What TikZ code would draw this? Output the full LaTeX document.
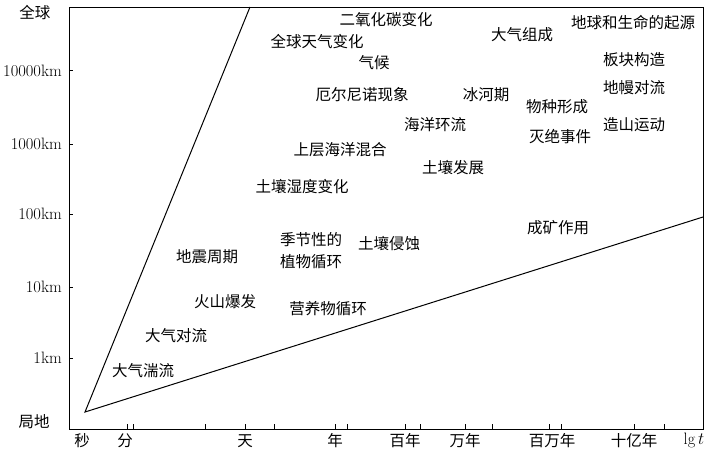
\documentclass[tikz,border=0pt]{standalone}
\usepackage{fontspec}
\newfontfamily\cjk{Noto Sans CJK SC}
\begin{document}
\begin{tikzpicture}[x=1pt,y=-1pt,
  lab/.style={font=\cjk\fontsize{15.5}{16}\selectfont, inner sep=0pt},
  axl/.style={font=\fontsize{16.5}{17}\selectfont, inner sep=0pt, anchor=east},
  frame/.style={line width=0.8pt},
  tick/.style={line width=0.7pt},
  bound/.style={line width=1pt}]
\useasboundingbox (0,0) rectangle (706,451);
% frame
\coordinate (tl) at (69,7);
\coordinate (tr) at (703,7);
\coordinate (bl) at (69,429);
\coordinate (br) at (703,429);
\draw[frame] (tl) -- (bl) -- (br) -- (tr) -- (tl);
% y ticks
\foreach \y/\t/\n in {70.5/10000km/y4,144/1000km/y3,214/100km/y2,287/10km/y1,358/1km/y0}{
  \coordinate (\n a) at (69,\y);
  \coordinate (\n b) at (73,\y);
  \draw[tick] (\n a) -- (\n b);
  \node[axl] (\n) at (62,\y) {\t};
}
\node[lab] (glob) at (35,13) {全球};
\node[lab] (loc) at (34,422) {局地};
% x ticks
\foreach \x [count=\i] in {127,133,205,245,274,335,347,405,420,465,492,549,561,634,664}{
  \coordinate (xa\i) at (\x,429);
  \coordinate (xb\i) at (\x,424);
  \draw[tick] (xa\i) -- (xb\i);
}
\node[lab] (s) at (82,441) {秒};
\node[lab] (mi) at (125,441) {分};
\node[lab] (d) at (245,441) {天};
\node[lab] (yr) at (335,441) {年};
\node[lab] (c) at (405,441) {百年};
\node[lab] (ty) at (465,441) {万年};
\node[lab] (my) at (552,441) {百万年};
\node[lab] (gy) at (634,441) {十亿年};
\node[font=\fontsize{16.5}{17}\selectfont, inner sep=0pt] (lgt) at (694,440) {lg\,$t$};
% boundary lines
\coordinate (o) at (85,412);
\coordinate (a) at (250,7);
\coordinate (b) at (703,217);
\draw[bound] (a) -- (o) -- (b);
% phenomena
\node[lab] (n1) at (386,20) {二氧化碳变化};
\node[lab] (n2) at (317,42) {全球天气变化};
\node[lab] (n3) at (374,63) {气候};
\node[lab] (n4) at (362,95) {厄尔尼诺现象};
\node[lab] (n5) at (486,95) {冰河期};
\node[lab] (n6) at (522,35) {大气组成};
\node[lab] (n7) at (633,23) {地球和生命的起源};
\node[lab] (n8) at (634,60) {板块构造};
\node[lab] (n9) at (634,88) {地幔对流};
\node[lab] (n10) at (557,107) {物种形成};
\node[lab] (n11) at (560,137) {灭绝事件};
\node[lab] (n12) at (634,125) {造山运动};
\node[lab] (n13) at (435,125) {海洋环流};
\node[lab] (n14) at (340,150) {上层海洋混合};
\node[lab] (n15) at (453,168) {土壤发展};
\node[lab] (n16) at (302,187) {土壤湿度变化};
\node[lab] (n17) at (311,240) {季节性的};
\node[lab] (n18) at (311,262) {植物循环};
\node[lab] (n19) at (389,244) {土壤侵蚀};
\node[lab] (n20) at (558,228) {成矿作用};
\node[lab] (n21) at (207,257) {地震周期};
\node[lab] (n22) at (225,302) {火山爆发};
\node[lab] (n23) at (328,309) {营养物循环};
\node[lab] (n24) at (176,336) {大气对流};
\node[lab] (n25) at (143,371) {大气湍流};
\end{tikzpicture}
\end{document}
